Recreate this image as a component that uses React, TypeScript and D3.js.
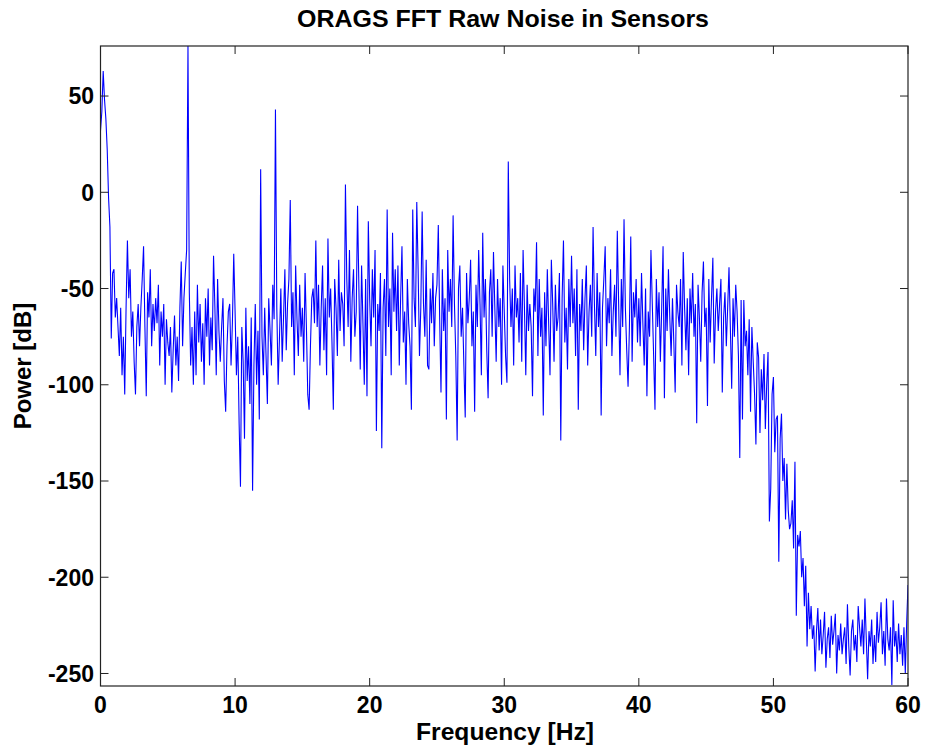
import React from "react";
import * as d3 from "d3";

const startHz = 0;
const stepHz = 0.1;

// Power [dB], one row per Hz (10 bins per row)
const powerDb: number[] = [
  32, 42, 63, 48, 38, 22, -3, -18, -76, -42,
  -40, -65, -55, -70, -85, -60, -95, -75, -105, -60,
  -25, -55, -40, -75, -62, -88, -105, -70, -58, -80,
  -60, -45, -28, -70, -106, -52, -65, -40, -80, -58,
  -72, -55, -68, -48, -90, -62, -75, -58, -100, -66,
  -78, -85, -70, -104, -82, -64, -90, -75, -98, -60,
  -36, -80, -55, -42, -30, 76, -52, -90, -70, -100,
  -62, -95, -48, -78, -58, -88, -68, -100, -55, -75,
  -50, -90, -65, -82, -33, -60, -95, -45, -72, -88,
  -70, -55, -98, -114, -80, -62, -58, -90, -68, -32,
  -62, -95, -75, -120, -153, -70, -88, -128, -60, -98,
  -80, -110, -65, -155, -90, -58, -100, -72, -118, 12,
  -75, -95, -60, -85, -110, -55, -72, -90, -48, -66,
  43, -60, -100, -75, -50, -88, -65, -40, -82, -58,
  -45, -4, -70, -52, -95, -38, -66, -85, -48, -75,
  -60, -88, -42, -70, -105, -113, -80, -55, -50, -68,
  -25, -70, -48, -90, -60, -38, -82, -55, -95, -24,
  -65, -50, -78, -113, -45, -60, -85, -35, -72, -52,
  -58, -80, 4, -45, -70, -30, -88, -55, -40, -75,
  -62, -7, -50, -92, -38, -68, -100, -45, -106, -15,
  -55, -80, -40, -65, -30, -124, -58, -72, -42, -133,
  -60, -45, -85, -9, -70, -50, -95, -21, -62, -40,
  -72, -38, -90, -55, -28, -78, -62, -100, -45, -68,
  -80, -113, -9, -55, -70, -5, -40, -85, -60, -10,
  -58, -75, -35, -90, -92, -50, -68, -42, -80, -55,
  -48, -17, -65, -104, -40, -72, -55, -118, -30, -62,
  -45, -70, -12, -58, -85, -129, -50, -38, -75, -60,
  -90, -117, -42, -68, -55, -35, -80, -62, -114, -48,
  -70, -30, -58, -95, -21, -65, -45, -82, -107, -52,
  -40, -75, -31, -60, -88, -45, -70, -55, -100, -38,
  -62, -85, -99, 16, -45, -70, -50, -90, -38, -65,
  -55, -78, -42, -88, -30, -60, -95, -48, -72, -58,
  -70, -106, -50, -62, -26, -85, -45, -75, -60, -116,
  -52, -80, -40, -68, -95, -35, -58, -88, -48, -72,
  -65, -42, -129, -55, -25, -78, -60, -92, -45, -70,
  -33, -68, -50, -85, -40, -113, -58, -72, -45, -82,
  -55, -38, -90, -62, -48, -75, -18, -58, -85, -42,
  -70, -52, -116, -60, -45, -28, -80, -55, -68, -40,
  -85, -62, -48, -75, -20, -58, -95, -45, -70, -14,
  -60, -82, -101, -70, -23, -88, -52, -65, -45, -78,
  -55, -80, -42, -68, -90, -50, -106, -62, -75, -30,
  -58, -85, -113, -45, -70, -52, -88, -60, -28, -107,
  -50, -72, -40, -65, -85, -55, -78, -104, -48, -62,
  -70, -45, -90, -31, -60, -82, -55, -95, -50, -68,
  -42, -75, -58, -120, -48, -65, -88, -52, -36, -70,
  -60, -111, -45, -78, -55, -34, -89, -62, -50, -72,
  -58, -45, -104, -65, -52, -80, -60, -39, -70, -102,
  -55, -75, -48, -62, -85, -138, -56, -118, -56, -80,
  -72, -95, -66, -114, -70, -88, -105, -131, -78, -86,
  -125, -92, -108, -84, -123, -100, -83, -171, -154, -105,
  -96, -135, -118, -116, -192, -128, -115, -150, -138, -170,
  -141, -165, -175, -172, -160, -185, -140, -220, -178, -184,
  -176, -200, -190, -215, -194, -236, -208, -227, -215, -232,
  -225, -249, -228, -216, -238, -222, -240, -230, -218, -247,
  -232, -226, -242, -220, -235, -228, -219, -250, -230, -238,
  -224, -240, -232, -226, -245, -214, -236, -251, -228, -222,
  -238, -230, -244, -215, -226, -236, -222, -240, -211, -232,
  -253, -228, -236, -222, -245, -230, -244, -218, -234, -226,
  -213, -240, -228, -246, -211, -232, -238, -226, -256, -212,
  -236, -228, -244, -224, -240, -230, -246, -226, -250, -224,
  -204,
];

const xTicks = [0, 10, 20, 30, 40, 50, 60];
const yTicks = [-250, -200, -150, -100, -50, 0, 50];
const xDomain: [number, number] = [0, 60];
const yDomain: [number, number] = [-256.5, 76];

const title = "ORAGS FFT Raw Noise in Sensors";
const xLabel = "Frequency [Hz]";
const yLabel = "Power [dB]";

export default function App() {
  const W = 930;
  const H = 755;
  const L = 100.5;
  const R = 908;
  const T = 46;
  const B = 686;
  const x = d3.scaleLinear().domain(xDomain).range([L, R]);
  const y = d3.scaleLinear().domain(yDomain).range([B, T]);
  const pts: [number, number][] = powerDb.map((v, i) => [startHz + i * stepHz, v]);
  const line = d3
    .line<[number, number]>()
    .x((d) => x(d[0]))
    .y((d) => y(d[1]));
  const font = "'Liberation Sans', Arial, Helvetica, sans-serif";
  const tickLen = 8;
  const axisColor = "#222";
  return (
    <svg
      width={W}
      height={H}
      style={{ position: "absolute", left: 0, top: 0, background: "#fff" }}
      fontFamily={font}
      fontWeight="bold"
    >
      <rect x={0} y={0} width={W} height={H} fill="#fff" />
      <defs>
        <clipPath id="plotClip">
          <rect x={L} y={T} width={R - L} height={B - T} />
        </clipPath>
      </defs>
      <path
        d={line(pts) || ""}
        fill="none"
        stroke="#0000ff"
        strokeWidth={1.1}
        clipPath="url(#plotClip)"
      />
      <rect x={L} y={T} width={R - L} height={B - T} fill="none" stroke={axisColor} strokeWidth={1.2} />
      {xTicks.map((t) => (
        <g key={"x" + t}>
          <line x1={x(t)} x2={x(t)} y1={B} y2={B - tickLen} stroke={axisColor} strokeWidth={1} />
          <line x1={x(t)} x2={x(t)} y1={T} y2={T + tickLen} stroke={axisColor} strokeWidth={1} />
          <text x={x(t)} y={713} textAnchor="middle" fontSize={23} fill="#000">
            {t}
          </text>
        </g>
      ))}
      {yTicks.map((t) => (
        <g key={"y" + t}>
          <line x1={L} x2={L + tickLen} y1={y(t)} y2={y(t)} stroke={axisColor} strokeWidth={1} />
          <line x1={R} x2={R - tickLen} y1={y(t)} y2={y(t)} stroke={axisColor} strokeWidth={1} />
          <text x={94} y={y(t) + 8.3} textAnchor="end" fontSize={23} fill="#000">
            {t}
          </text>
        </g>
      ))}
      <text
        x={297}
        y={26.5}
        fontSize={24}
        fill="#000"
        textLength={412}
        lengthAdjust="spacingAndGlyphs"
      >
        {title}
      </text>
      <text
        x={416}
        y={740}
        fontSize={24}
        fill="#000"
        textLength={178}
        lengthAdjust="spacingAndGlyphs"
      >
        {xLabel}
      </text>
      <text
        transform="translate(31,366) rotate(-90)"
        textAnchor="middle"
        fontSize={24}
        fill="#000"
      >
        {yLabel}
      </text>
    </svg>
  );
}
